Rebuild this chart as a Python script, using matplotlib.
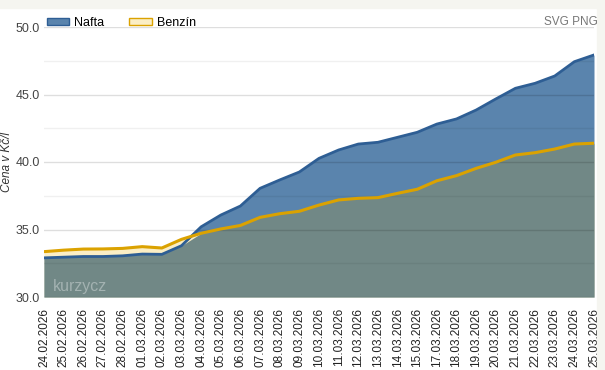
import matplotlib.pyplot as plt
from matplotlib.patches import Rectangle, Patch
import numpy as np

plt.rcParams['font.family'] = ['Liberation Sans', 'DejaVu Sans']

dates = ["24.02.2026", "25.02.2026", "26.02.2026", "27.02.2026", "28.02.2026",
         "01.03.2026", "02.03.2026", "03.03.2026", "04.03.2026", "05.03.2026",
         "06.03.2026", "07.03.2026", "08.03.2026", "09.03.2026", "10.03.2026",
         "11.03.2026", "12.03.2026", "13.03.2026", "14.03.2026", "15.03.2026",
         "17.03.2026", "18.03.2026", "19.03.2026", "20.03.2026", "21.03.2026",
         "22.03.2026", "23.03.2026", "24.03.2026", "25.03.2026"]

nafta = [32.9, 32.95, 33.0, 33.0, 33.05, 33.18, 33.16, 33.8, 35.2, 36.07,
         36.74, 38.05, 38.67, 39.26, 40.27, 40.89, 41.33, 41.46, 41.83, 42.2,
         42.81, 43.19, 43.85, 44.67, 45.46, 45.83, 46.37, 47.43, 47.93]

benzin = [33.36, 33.47, 33.55, 33.56, 33.6, 33.73, 33.63, 34.27, 34.72, 35.04,
          35.3, 35.9, 36.17, 36.35, 36.81, 37.19, 37.31, 37.36, 37.68, 37.98,
          38.61, 38.99, 39.53, 39.98, 40.52, 40.69, 40.96, 41.33, 41.39]

# colours
nafta_line = "#2e5e94"
nafta_fill = "#5a84ad"
benzin_line = "#dba200"
benzin_fill = "#fbeec5"
overlap_fill = "#718886"

x = np.arange(len(dates))
n = np.array(nafta)
b = np.array(benzin)

fig = plt.figure(figsize=(6.05, 3.70), dpi=100)
fig.patches.append(Rectangle((0, 1 - 8 / 370), 1, 8 / 370, transform=fig.transFigure,
                             color="#f5f5f0", zorder=0))
fig.patches.append(Rectangle((597 / 605, 0), 8 / 605, 1 - 8 / 370, transform=fig.transFigure,
                             color="#f5f5f0", zorder=0))

ax = fig.add_axes([44 / 605, 1 - 297 / 370, 550 / 605, 270 / 370])

# fills: nafta, benzin, overlap
ax.fill_between(x, 30, n, color=nafta_fill, lw=0, zorder=1)
ax.fill_between(x, 30, b, color=benzin_fill, lw=0, zorder=1.5)
ax.fill_between(x, 30, np.minimum(n, b), color=overlap_fill, lw=0, zorder=2)

# grid
for v in np.arange(30, 50.1, 2.5):
    major = v % 5 == 0
    ax.axhline(v, color="black", alpha=0.13 if major else 0.06, lw=1, zorder=2.5)

ax.plot(x, n, color=nafta_line, lw=2, zorder=4)
ax.plot(x, b, color=benzin_line, lw=2.2, zorder=5)

ax.set_xlim(0, len(dates) - 1)
ax.set_ylim(30, 50)
ax.set_yticks(np.arange(30, 50.1, 5))
ax.set_yticklabels([f"{v:.1f}" for v in np.arange(30, 50.1, 5)])
ax.set_xticks(x)
ax.set_xticklabels(dates, rotation=90)
ax.tick_params(axis="y", length=0, pad=3, labelsize=9, labelcolor="#444444")
ax.tick_params(axis="x", length=0, pad=8, labelsize=8.5, labelcolor="#222222")
for s in ax.spines.values():
    s.set_visible(False)

ax.set_ylabel("Cena v Kč/l", style="italic", fontsize=8.5, color="#333333")
ax.yaxis.set_label_coords(-31 / 550, 0.5)

ax.text(0.016, 0.022, "kurzycz", transform=ax.transAxes, fontsize=11.5,
        color="#a3b2b1", zorder=6)

handles = [Patch(facecolor=nafta_fill, edgecolor=nafta_line, lw=1),
           Patch(facecolor=benzin_fill, edgecolor=benzin_line, lw=1)]
fig.legend(handles, ["Nafta", "Benzín"], loc="upper left",
           bbox_to_anchor=(38 / 605, 1 - 8 / 370), ncol=2, frameon=False,
           fontsize=9, handlelength=1.8, handleheight=0.5, columnspacing=2.0,
           handletextpad=0.4, borderpad=0.2)

fig.text(598 / 605, 1 - 25 / 370, "SVG PNG", ha="right", va="baseline",
         fontsize=8.5, color="#777777")

fig.savefig("out.png", dpi=100)
